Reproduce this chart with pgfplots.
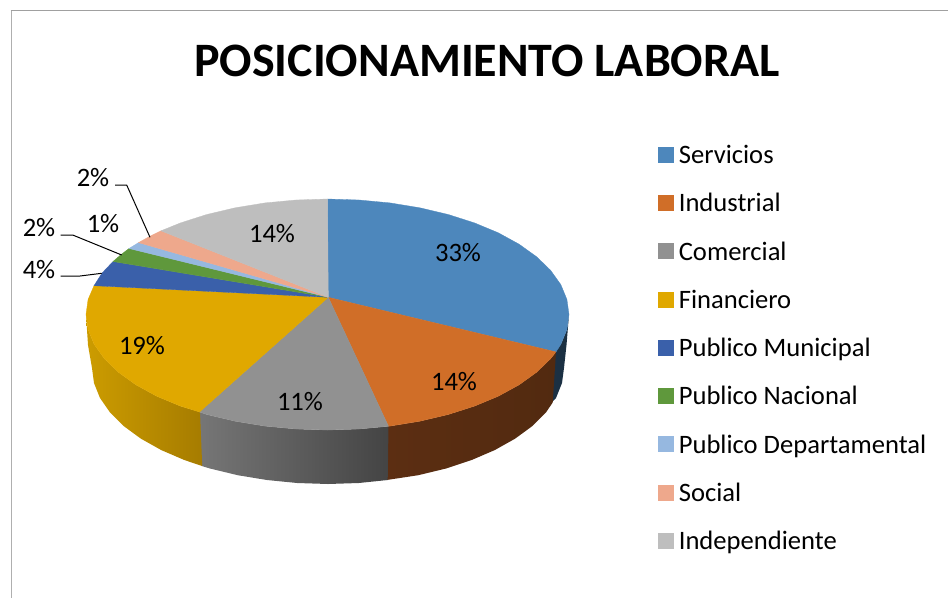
\documentclass[border=0pt]{standalone}
\usepackage{fontspec}
\setmainfont{Carlito}
\usepackage{pgfplots}
\pgfplotsset{compat=1.18}
\definecolor{cServ}{RGB}{77,135,188}
\definecolor{cInd}{RGB}{208,110,40}
\definecolor{cCom}{RGB}{145,145,145}
\definecolor{cFin}{RGB}{224,168,0}
\definecolor{cMun}{RGB}{58,96,170}
\definecolor{cNac}{RGB}{95,152,60}
\definecolor{cDep}{RGB}{150,184,224}
\definecolor{cSoc}{RGB}{238,168,140}
\definecolor{cIdp}{RGB}{190,190,190}
\begin{document}
\begin{tikzpicture}
\begin{axis}[
  scale only axis, width=948pt, height=598pt,
  xmin=0, xmax=948, ymin=0, ymax=598, y dir=reverse,
  hide axis, clip=false,
  title={\fontsize{48}{50}\selectfont\bfseries POSICIONAMIENTO LABORAL},
  title style={at={(axis cs:487,66.5)}, anchor=center, inner sep=0pt},
  area legend,
  legend image code/.code={\fill[#1] (0pt,-4.5pt) rectangle (15pt,10.5pt);\path (20.5pt,0pt);},
  legend cell align=left,
  legend style={at={(axis cs:658,145.5)}, anchor=north west, draw=none, fill=none,
    font=\fontsize{26.6}{28}\selectfont, inner sep=0pt, outer sep=0pt,
    row sep=24.25pt, nodes={inner sep=0pt, text height=18pt, text depth=6pt}},
]
% sides (drawn first)
\addplot[forget plot, draw=none, left color=black!10!cServ!40!black, right color=cServ!35!black] coordinates {
 (569,314.5)(566.9,329.6)(560.8,344.4)(555,351.9)(551.7,402.5)(556,398)(562,383.1)(564,368)(566.5,345)(569,314.5)};
\addplot[forget plot, draw=none, left color={rgb,255:red,92;green,46;blue,18}, right color={rgb,255:red,82;green,42;blue,16}] coordinates {
 (556,351.9)(550.6,358.7)(536.6,372.25)(519.1,384.8)(498.3,396.2)(474.5,406.1)(448.25,414.5)(419.9,421.2)(390,426.1)(387.5,426.3)
 (386.7,480)(418.3,475.2)(446,468.5)(471.7,460)(494.9,450)(515.2,438.6)(532.4,426)(546,412.4)(552.7,402.5)};
\addplot[forget plot, draw=none, left color={rgb,255:red,118;green,118;blue,118}, right color={rgb,255:red,68;green,68;blue,68}] coordinates {
 (388.5,426.3)(359,429)(327.5,430)(296,429)(265,426.1)(235.1,421.2)(206.75,414.5)(199.5,412)
 (201.7,466)(210,468.5)(237.7,475.2)(266.9,480)(297.2,483)(328,484)(358.8,483)(387.7,480)};
\addplot[forget plot, draw=none, left color={rgb,255:red,204;green,156;blue,0}, right color={rgb,255:red,166;green,124;blue,0}] coordinates {
 (200,412)(180.5,406.1)(156.7,396.2)(135.9,384.8)(118.4,372.25)(104.4,358.7)(94.2,344.4)(88.1,329.6)(86,314.5)
 (88,345)(92,368)(94,383.1)(100,398)(110,412.4)(123.6,426)(140.8,438.6)(161.1,450)(184.3,460)(202.2,466)};
% top faces
\addplot[fill=cServ, draw=cServ, line width=.3pt] coordinates {
 (328.3,297.3)(327.5,199)(359,200)(390,202.9)(419.9,207.8)(448.25,214.5)(474.5,222.9)(498.3,232.8)(519.1,244.2)(536.6,256.75)(550.6,270.3)(560.8,284.6)(566.9,299.4)(569,314.5)(566.9,329.6)(560.8,344.4)(556,351.9)(328.3,297.3)};
\addlegendentry{Servicios}
\addplot[fill=cInd, draw=cInd, line width=.3pt] coordinates {
 (328.3,297.3)(556,351.9)(550.6,358.7)(536.6,372.25)(519.1,384.8)(498.3,396.2)(474.5,406.1)(448.25,414.5)(419.9,421.2)(390,426.1)(388.5,426.3)(328.3,297.3)};
\addlegendentry{Industrial}
\addplot[fill=cCom, draw=cCom, line width=.3pt] coordinates {
 (328.3,297.3)(388.5,426.3)(359,429)(327.5,430)(296,429)(265,426.1)(235.1,421.2)(206.75,414.5)(199.5,412)(328.3,297.3)};
\addlegendentry{Comercial}
\addplot[fill=cFin, draw=cFin, line width=.3pt] coordinates {
 (328.3,297.3)(199.5,412)(180.5,406.1)(156.7,396.2)(135.9,384.8)(118.4,372.25)(104.4,358.7)(94.2,344.4)(88.1,329.6)(86,314.5)(88.1,299.4)(94,285.7)(328.3,297.3)};
\addlegendentry{Financiero}
\addplot[fill=cMun, draw=cMun, line width=.3pt] coordinates {
 (328.3,297.3)(94,285.7)(102,273.1)(113,261.5)(328.3,297.3)};
\addlegendentry{Publico Municipal}
\addplot[fill=cNac, draw=cNac, line width=.3pt] coordinates {
 (328.3,297.3)(113,261.5)(121,254.6)(129,248.5)(328.3,297.3)};
\addlegendentry{Publico Nacional}
\addplot[fill=cDep, draw=cDep, line width=.3pt] coordinates {
 (328.3,297.3)(129,248.5)(138.5,242.6)(328.3,297.3)};
\addlegendentry{Publico Departamental}
\addplot[fill=cSoc, draw=cSoc, line width=.3pt] coordinates {
 (328.3,297.3)(138.5,242.6)(150,236.2)(161,230.8)(328.3,297.3)};
\addlegendentry{Social}
\addplot[fill=cIdp, draw=cIdp, line width=.3pt] coordinates {
 (328.3,297.3)(161,230.8)(180.5,222.9)(206.75,214.5)(235.1,207.8)(265,202.9)(296,200)(327.5,199)(328.3,297.3)};
\addlegendentry{Independiente}
% frame
\addplot[forget plot, color={rgb,255:red,175;green,175;blue,175}, line width=1.4pt] coordinates {(11.3,10)(11.3,598)};
\addplot[forget plot, color={rgb,255:red,160;green,160;blue,160}, line width=1.2pt] coordinates {(10.6,10.5)(948,10.5)};
% leaders
\addplot[forget plot, black, line width=1pt] coordinates {(115,185)(126.7,185)(150,237.3)};
\addplot[forget plot, black, line width=1pt] coordinates {(60.7,235)(72.7,235)(121.7,255)};
\addplot[forget plot, black, line width=1pt] coordinates {(60.7,276)(80,276)(101.7,273.3)};
% labels
\begin{scope}[every node/.style={font=\fontsize{26.6}{28}\selectfont, inner sep=0pt}]
\node at (axis cs:458,252.5) {33\%};
\node at (axis cs:454,382) {14\%};
\node at (axis cs:300,402) {11\%};
\node at (axis cs:142,346) {19\%};
\node at (axis cs:272,234) {14\%};
\node at (axis cs:39,270) {4\%};
\node at (axis cs:39,228) {2\%};
\node at (axis cs:103,224) {1\%};
\node at (axis cs:93,178) {2\%};
\end{scope}
\end{axis}
\pgfresetboundingbox
\path[use as bounding box] (0,0) rectangle (948pt,598pt);
\end{tikzpicture}
\end{document}
